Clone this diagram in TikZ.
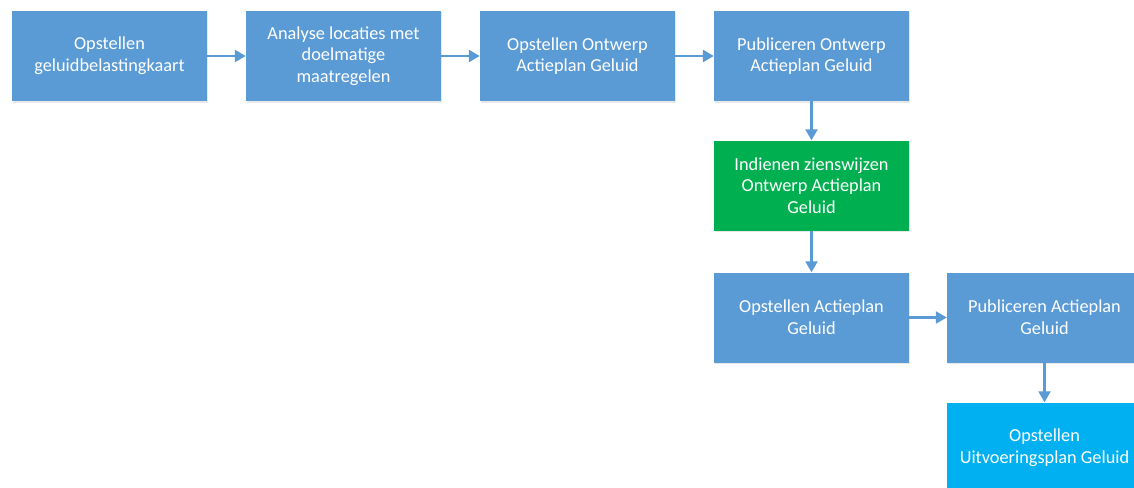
\documentclass[tikz,border=0pt]{standalone}
\usepackage{fontspec}
\setmainfont{Carlito}
\usetikzlibrary{arrows.meta,shadows}
\definecolor{boxblue}{HTML}{5B9BD5}
\definecolor{boxgreen}{HTML}{00B050}
\definecolor{boxcyan}{HTML}{00B0F0}
\tikzset{
  stepbox/.style={rectangle, fill=boxblue, draw=none, minimum width=195pt, minimum height=90pt,
    inner sep=0pt, align=center, text=white, font=\fontsize{18.3}{21.7}\selectfont,
    drop shadow={opacity=0.18, shadow xshift=1pt, shadow yshift=-1.5pt}},
  conn/.style={draw=boxblue, line width=2.4pt, -{Triangle[length=11pt,width=12pt]}}
}
\begin{document}
\begin{tikzpicture}[x=1pt,y=-1pt]
\useasboundingbox (0,0) rectangle (1134,487);
\node[stepbox] (a) at (109.5,56) {Opstellen\\geluidbelastingkaart};
\node[stepbox] (b) at (343.5,56) {Analyse locaties met\\doelmatige\\maatregelen};
\node[stepbox] (c) at (577.5,56) {Opstellen Ontwerp\\Actieplan Geluid};
\node[stepbox] (d) at (811.5,56) {Publiceren Ontwerp\\Actieplan Geluid};
\node[stepbox, fill=boxgreen] (e) at (811.5,185.5) {Indienen zienswijzen\\Ontwerp Actieplan\\Geluid};
\node[stepbox] (f) at (811.5,317.5) {Opstellen Actieplan\\Geluid};
\node[stepbox] (g) at (1044.5,317.5) {Publiceren Actieplan\\Geluid};
\node[stepbox, fill=boxcyan] (h) at (1044.5,447.5) {Opstellen\\Uitvoeringsplan Geluid};
\draw[conn] (a) -- (b);
\draw[conn] (b) -- (c);
\draw[conn] (c) -- (d);
\draw[conn] (d) -- (e);
\draw[conn] (e) -- (f);
\draw[conn] (f) -- (g);
\draw[conn] (g) -- (h);
\end{tikzpicture}
\end{document}
